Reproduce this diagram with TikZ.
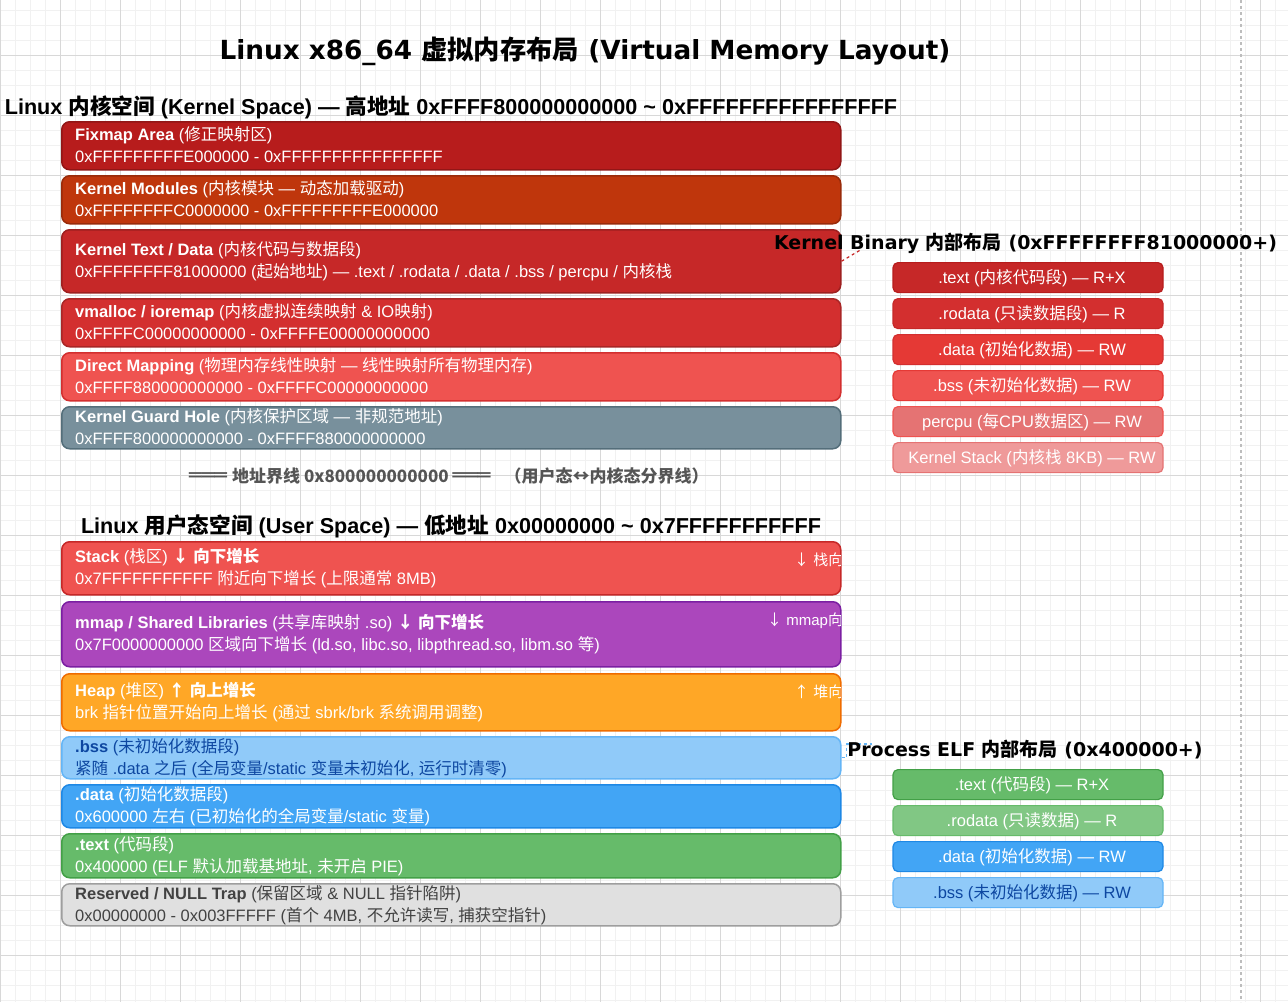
\documentclass[tikz,border=0pt]{standalone}
\usepackage{fontspec}
\setmainfont{Liberation Sans}
\newfontfamily\cjk{Noto Sans CJK SC}
\newfontfamily\dvs{DejaVu Sans}
\newcommand\z[1]{{\cjk #1}}
\usetikzlibrary{calc}
\definecolor{kfix}{HTML}{B71C1C}
\definecolor{kmod}{HTML}{BF360C}
\definecolor{ktxt}{HTML}{C62828}
\definecolor{kvm}{HTML}{D32F2F}
\definecolor{kdm}{HTML}{EF5350}
\definecolor{kgh}{HTML}{78909C}
\definecolor{kgb}{HTML}{546E7A}
\definecolor{kd}{HTML}{E53935}
\definecolor{kp}{HTML}{E57373}
\definecolor{ks}{HTML}{EF9A9A}
\definecolor{umm}{HTML}{AB47BC}
\definecolor{ummb}{HTML}{7B1FA2}
\definecolor{uhp}{HTML}{FFA726}
\definecolor{uhpb}{HTML}{EF6C00}
\definecolor{ubss}{HTML}{90CAF9}
\definecolor{ubssb}{HTML}{64B5F6}
\definecolor{ubsst}{HTML}{0D47A1}
\definecolor{udat}{HTML}{42A5F5}
\definecolor{udatb}{HTML}{1E88E5}
\definecolor{utxt}{HTML}{66BB6A}
\definecolor{utxtb}{HTML}{43A047}
\definecolor{urod}{HTML}{81C784}
\definecolor{ures}{HTML}{E0E0E0}
\definecolor{uresb}{HTML}{9E9E9E}
\definecolor{urest}{HTML}{424242}
\definecolor{bline}{HTML}{555555}
\definecolor{gmin}{HTML}{F1F1F1}
\definecolor{gmaj}{HTML}{D8D8D8}
\definecolor{vdash}{HTML}{BDBDBD}
\tikzset{
  gminor/.style={draw=gmin, line width=1pt},
  gmajor/.style={draw=gmaj, line width=1pt},
  mbox/.style={rectangle, rounded corners=8pt, minimum width=779pt, line width=1.5pt, inner sep=0pt},
  mtxt/.style={anchor=base west, inner sep=0pt, font=\fontsize{16.5}{20}\selectfont},
  rtxt/.style={anchor=base west, inner sep=0pt, text=white, font=\fontsize{15}{18}\selectfont},
  sbox/.style={rectangle, rounded corners=5pt, minimum width=270pt, minimum height=30pt, line width=1.2pt, inner sep=0pt},
  stxt/.style={anchor=base, inner sep=0pt, font=\fontsize{16.5}{20}\selectfont},
  sechead/.style={inner sep=0pt, anchor=base, font=\bfseries\fontsize{21.6}{26}\selectfont},
  sidehead/.style={inner sep=0pt, anchor=base, font=\dvs\bfseries\fontsize{19}{23}\selectfont},
}
\newcommand\membox[8]{%
  \pgfmathsetmacro\bh{#3-#2}%
  \pgfmathsetmacro\cy{(#2+#3)/2}%
  \node[mbox, fill=#4, draw=#5, minimum height=\bh pt, anchor=north west] (#1) at (61,#2) {};
  \node[mtxt, text=#6] (#1-a) at (75,\cy-5) {#7};
  \node[mtxt, text=#6] (#1-b) at (75,\cy+17) {#8};
}
\newcommand\sidebox[6]{%
  \node[sbox, fill=#3, draw=#4, anchor=north] (#1) at (1028,#2) {};
  \node[stxt, text=#5] (#1-t) at ($(#1.center)+(4,6)$) {#6};
}
\newcommand\dbar{{\dvs\fontsize{21}{20}\selectfont ═══}}
\begin{document}
\begin{tikzpicture}[x=1pt,y=-1pt]
\useasboundingbox (0,0) rectangle (1288,1002);
\fill[white] (0,0) rectangle (1288,1002);
% grid
\foreach \x in {0,15,...,1288} \draw[gminor] (\x,0) -- (\x,1002);
\foreach \y in {10,25,...,1002} \draw[gminor] (0,\y) -- (1288,\y);
\foreach \x in {0,60,...,1288} \draw[gmajor] (\x,0) -- (\x,1002);
\foreach \y in {55,115,...,1002} \draw[gmajor] (0,\y) -- (1288,\y);
\draw[vdash, line width=1.2pt, dash pattern=on 3pt off 3pt] (1241,0) -- (1241,1002);

% title
\node[inner sep=0pt, anchor=base, font=\dvs\bfseries\fontsize{26.3}{30}\selectfont] (title) at (585,59) {Linux x86\_64 \z{虚拟内存布局} (Virtual Memory Layout)};

% kernel space
\node[sechead] (khead) at (451,114) {Linux \z{内核空间} (Kernel Space) — \z{高地址} 0xFFFF800000000000 \textasciitilde{} 0xFFFFFFFFFFFFFFFF};

\membox{fix}{121}{169}{kfix}{kfix!80!black}{white}{\textbf{Fixmap Area} (\z{修正映射区})}{0xFFFFFFFFFE000000 - 0xFFFFFFFFFFFFFFFF}
\membox{mod}{175}{223}{kmod}{kmod!80!black}{white}{\textbf{Kernel Modules} (\z{内核模块} — \z{动态加载驱动})}{0xFFFFFFFFC0000000 - 0xFFFFFFFFFE000000}
\membox{ktext}{229}{292}{ktxt}{ktxt!80!black}{white}{\textbf{Kernel Text / Data} (\z{内核代码与数据段})}{0xFFFFFFFF81000000 (\z{起始地址}) — .text / .rodata / .data / .bss / percpu / \z{内核栈}}
\membox{vm}{298}{346}{kvm}{kvm!80!black}{white}{\textbf{vmalloc / ioremap} (\z{内核虚拟连续映射} \& IO\z{映射})}{0xFFFFC00000000000 - 0xFFFFE00000000000}
\membox{dm}{352}{400}{kdm}{kvm}{white}{\textbf{Direct Mapping} (\z{物理内存线性映射} — \z{线性映射所有物理内存})}{0xFFFF880000000000 - 0xFFFFC00000000000}
\membox{guard}{406}{448}{kgh}{kgb}{white}{\textbf{Kernel Guard Hole} (\z{内核保护区域} — \z{非规范地址})}{0xFFFF800000000000 - 0xFFFF880000000000}

% boundary
\node[inner sep=0pt, anchor=base west, text=bline, font=\cjk\bfseries\fontsize{17}{20}\selectfont] (bound) at (189,482) {\dbar\hspace{5pt}地址界线 0x800000000000 \dbar\hspace{14pt}（用户态↔内核态分界线）};

% user space
\node[sechead] (uhead) at (451,533) {Linux \z{用户态空间} (User Space) — \z{低地址} 0x00000000 \textasciitilde{} 0x7FFFFFFFFFFF};

\membox{stack}{541}{594}{kdm}{ktxt}{white}{\textbf{Stack} (\z{栈区}) \textbf{\z{↓} \z{向下增长}}}{0x7FFFFFFFFFFF \z{附近向下增长} (\z{上限通常} 8MB)}
\membox{mmap}{601}{666}{umm}{ummb}{white}{\textbf{mmap / Shared Libraries} (\z{共享库映射} .so) \textbf{\z{↓} \z{向下增长}}}{0x7F0000000000 \z{区域向下增长} (ld.so, libc.so, libpthread.so, libm.so \z{等})}
\membox{heap}{673}{730}{uhp}{uhpb}{white}{\textbf{Heap} (\z{堆区}) \textbf{\z{↑} \z{向上增长}}}{brk \z{指针位置开始向上增长} (\z{通过} sbrk/brk \z{系统调用调整})}
\membox{bss}{736}{778}{ubss}{ubssb}{ubsst}{\textbf{.bss} (\z{未初始化数据段})}{\z{紧随} .data \z{之后} (\z{全局变量}/static \z{变量未初始化}, \z{运行时清零})}
\membox{data}{784}{827}{udat}{udatb}{white}{\textbf{.data} (\z{初始化数据段})}{0x600000 \z{左右} (\z{已初始化的全局变量}/static \z{变量})}
\membox{text}{833}{877}{utxt}{utxtb}{white}{\textbf{.text} (\z{代码段})}{0x400000 (ELF \z{默认加载基地址}, \z{未开启} PIE)}
\membox{res}{883}{925}{ures}{uresb}{urest}{\textbf{Reserved / NULL Trap} (\z{保留区域} \& NULL \z{指针陷阱})}{0x00000000 - 0x003FFFFF (\z{首个} 4MB, \z{不允许读写}, \z{捕获空指针})}

% clipped direction labels
\begin{scope}
\clip (61,541) rectangle (840,594);
\node[rtxt] (stack-r) at (794,565) {\z{↓} \z{栈向下}};
\end{scope}
\begin{scope}
\clip (61,601) rectangle (840,666);
\node[rtxt] (mmap-r) at (767,625) {\z{↓} mmap\z{向下}};
\end{scope}
\begin{scope}
\clip (61,673) rectangle (840,730);
\node[rtxt] (heap-r) at (794,697) {\z{↑} \z{堆向上}};
\end{scope}

% connectors
\coordinate (kbhook) at (862,249);
\draw[ktxt, line width=1.2pt, dashed] (ktext.east) -- (kbhook);
\coordinate (elfhook) at (872,744);
\draw[ubssb, line width=1.2pt, dashed] (bss.east) -- ++(5,0) |- (elfhook);

% kernel binary panel
\node[sidehead] (kbhead) at (1025.5,249) {Kernel Binary \z{内部布局} (0xFFFFFFFF81000000+)};
\sidebox{kb1}{262}{ktxt}{kfix}{white}{.text (\z{内核代码段}) — R+X}
\sidebox{kb2}{298}{kvm}{ktxt}{white}{.rodata (\z{只读数据段}) — R}
\sidebox{kb3}{334}{kd}{kvm}{white}{.data (\z{初始化数据}) — RW}
\sidebox{kb4}{370}{kdm}{kd}{white}{.bss (\z{未初始化数据}) — RW}
\sidebox{kb5}{406}{kp}{kdm}{white}{percpu (\z{每}CPU\z{数据区}) — RW}
\sidebox{kb6}{442}{ks}{kp}{white}{Kernel Stack (\z{内核栈} 8KB) — RW}

% process ELF panel
\node[sidehead] (elfhead) at (1025,756) {Process ELF \z{内部布局} (0x400000+)};
\sidebox{pe1}{769}{utxt}{utxtb}{white}{.text (\z{代码段}) — R+X}
\sidebox{pe2}{805}{urod}{utxt}{white}{.rodata (\z{只读数据}) — R}
\sidebox{pe3}{841}{udat}{udatb}{white}{.data (\z{初始化数据}) — RW}
\sidebox{pe4}{877}{ubss}{ubssb}{ubsst}{.bss (\z{未初始化数据}) — RW}
\end{tikzpicture}
\end{document}
